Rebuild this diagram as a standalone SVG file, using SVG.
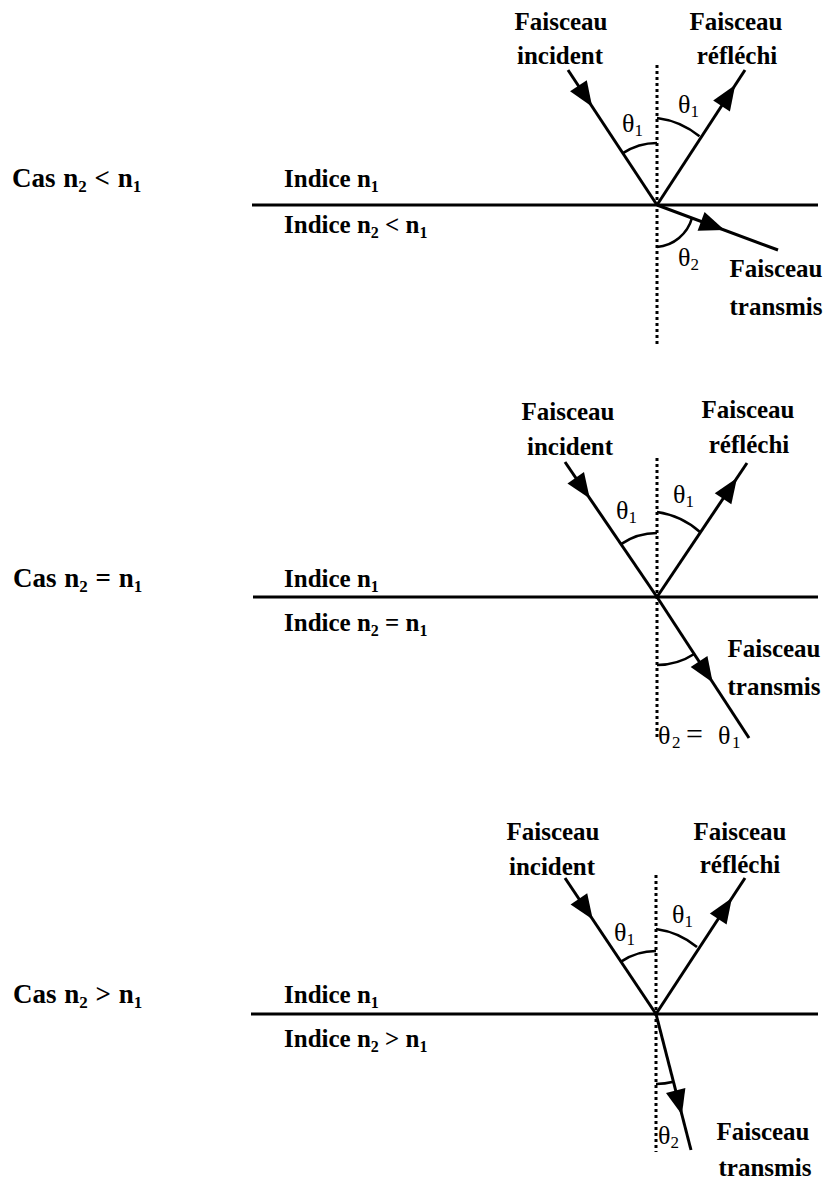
<svg xmlns="http://www.w3.org/2000/svg" xmlns:xlink="http://www.w3.org/1999/xlink" width="825" height="1179" viewBox="0 0 825 1179">
<style>
.lbl{font-family:"Liberation Serif","Times New Roman",serif;font-weight:bold;font-size:25px;fill:#000}
.cas{font-size:27px;word-spacing:1px}
.mid{text-anchor:middle}
.th{font-family:"Liberation Serif","Times New Roman",serif;font-size:26px;fill:#000}
.sub{font-size:16px}
.cas .sub{font-size:17px}
.ths{font-size:17px}
.eq{font-size:30px}
.iface{stroke:#000;stroke-width:3.2;fill:none}
.normal{stroke:#000;stroke-width:3;stroke-dasharray:3 3;fill:none}
.ray{stroke:#000;stroke-width:3;fill:none;stroke-linecap:butt}
.arc{stroke:#000;stroke-width:2.6;fill:none}
</style>
<defs>
<polygon id="ah" points="0,0 -25,-10 -25,10" fill="#000"/>
</defs>
<rect width="825" height="1179" fill="#fff"/>

<!-- Panel 1 -->
<g id="panel1">
  <g id="p1-labels">
    <text class="lbl cas" x="12" y="187">Cas n<tspan class="sub" dy="5">2</tspan><tspan dy="-5"> &lt; n</tspan><tspan class="sub" dy="5">1</tspan></text>
    <text class="lbl" x="284" y="187">Indice n<tspan class="sub" dy="5">1</tspan></text>
    <text class="lbl" x="284" y="233">Indice n<tspan class="sub" dy="5">2</tspan><tspan dy="-5"> &lt; n</tspan><tspan class="sub" dy="5">1</tspan></text>
  </g>
  <g id="p1-interface"><line class="iface" x1="252" y1="205" x2="818" y2="205"/></g>
  <g id="p1-normal"><line class="normal" x1="657" y1="65" x2="657" y2="347"/></g>
  <g id="p1-incident">
    <text class="lbl mid" x="561" y="30">Faisceau</text>
    <text class="lbl mid" x="560" y="64">incident</text>
  </g>
  <g id="p1-reflected">
    <text class="lbl mid" x="736" y="30">Faisceau</text>
    <text class="lbl mid" x="737" y="64">réfléchi</text>
  </g>
  <g id="p1-transmitted">
    <text class="lbl mid" x="776" y="277">Faisceau</text>
    <text class="lbl mid" x="776" y="315">transmis</text>
  </g>
  <g id="p1-angles">
    <path class="arc" d="M657,143 A62,62 0 0 0 622.9,153.2"/>
    <path class="arc" d="M657,118 A84,84 0 0 1 699.5,136.3"/>
    <path class="arc" d="M657,247 A40,40 0 0 0 692,218"/>
    <text class="th" x="622" y="132">θ<tspan class="ths" dy="4">1</tspan></text>
    <text class="th" x="678" y="113">θ<tspan class="ths" dy="4">1</tspan></text>
    <text class="th" x="678" y="266">θ<tspan class="ths" dy="4">2</tspan></text>
  </g>
</g>

<!-- Panel 2 -->
<g id="panel2">
  <g id="p2-labels">
    <text class="lbl cas" x="13" y="587">Cas n<tspan class="sub" dy="5">2</tspan><tspan dy="-5"> = n</tspan><tspan class="sub" dy="5">1</tspan></text>
    <text class="lbl" x="284" y="587">Indice n<tspan class="sub" dy="5">1</tspan></text>
    <text class="lbl" x="284" y="631">Indice n<tspan class="sub" dy="5">2</tspan><tspan dy="-5"> = n</tspan><tspan class="sub" dy="5">1</tspan></text>
  </g>
  <g id="p2-interface"><line class="iface" x1="253" y1="597" x2="818" y2="597"/></g>
  <g id="p2-normal"><line class="normal" x1="657" y1="458" x2="657" y2="738"/></g>
  <g id="p2-incident">
    <text class="lbl mid" x="568" y="420">Faisceau</text>
    <text class="lbl mid" x="570" y="455">incident</text>
  </g>
  <g id="p2-reflected">
    <text class="lbl mid" x="748" y="418">Faisceau</text>
    <text class="lbl mid" x="749" y="453">réfléchi</text>
  </g>
  <g id="p2-transmitted">
    <text class="lbl mid" x="774" y="657">Faisceau</text>
    <text class="lbl mid" x="774" y="695">transmis</text>
  </g>
  <g id="p2-angles">
    <path class="arc" d="M657,533 A64,64 0 0 0 621,544.1"/>
    <path class="arc" d="M657,512 A83,83 0 0 1 700,532"/>
    <path class="arc" d="M657,665 A68,68 0 0 0 694.2,654"/>
    <text class="th" x="616" y="519">θ<tspan class="ths" dy="4">1</tspan></text>
    <text class="th" x="673" y="503">θ<tspan class="ths" dy="4">1</tspan></text>
    <text class="th" y="744"><tspan x="658">θ</tspan><tspan class="ths" x="672" dy="4">2</tspan><tspan class="eq" x="686" dy="-4">=</tspan><tspan x="718">θ</tspan><tspan class="ths" x="732" dy="4">1</tspan></text>
  </g>
</g>

<!-- Panel 3 -->
<g id="panel3">
  <g id="p3-labels">
    <text class="lbl cas" x="13" y="1003">Cas n<tspan class="sub" dy="5">2</tspan><tspan dy="-5"> &gt; n</tspan><tspan class="sub" dy="5">1</tspan></text>
    <text class="lbl" x="284" y="1003">Indice n<tspan class="sub" dy="5">1</tspan></text>
    <text class="lbl" x="284" y="1047">Indice n<tspan class="sub" dy="5">2</tspan><tspan dy="-5"> &gt; n</tspan><tspan class="sub" dy="5">1</tspan></text>
  </g>
  <g id="p3-interface"><line class="iface" x1="251" y1="1014" x2="818" y2="1014"/></g>
  <g id="p3-normal"><line class="normal" x1="656" y1="875" x2="656" y2="1152"/></g>
  <g id="p3-incident">
    <text class="lbl mid" x="553" y="840">Faisceau</text>
    <text class="lbl mid" x="552" y="875">incident</text>
  </g>
  <g id="p3-reflected">
    <text class="lbl mid" x="740" y="840">Faisceau</text>
    <text class="lbl mid" x="740" y="873">réfléchi</text>
  </g>
  <g id="p3-transmitted">
    <text class="lbl mid" x="763" y="1140">Faisceau</text>
    <text class="lbl mid" x="765" y="1176">transmis</text>
  </g>
  <g id="p3-angles">
    <path class="arc" d="M656,951 A63,63 0 0 0 621,961.6"/>
    <path class="arc" d="M656,929 A82,82 0 0 1 697,947"/>
    <path class="arc" d="M656,1084 A70,70 0 0 0 673.5,1081.8"/>
    <text class="th" x="614" y="941">θ<tspan class="ths" dy="4">1</tspan></text>
    <text class="th" x="672" y="923">θ<tspan class="ths" dy="4">1</tspan></text>
    <text class="th" x="658" y="1144">θ<tspan class="ths" dy="4">2</tspan></text>
  </g>
</g>

<!-- Connectors (rays) -->
<g id="connectors">
  <line class="ray" x1="568" y1="70" x2="657" y2="205"/>
  <line class="ray" x1="657" y1="205" x2="745" y2="70"/>
  <line class="ray" x1="657" y1="205" x2="778" y2="250"/>
  <use xlink:href="#ah" href="#ah" transform="translate(592.2,106.7) rotate(56.6)"/>
  <use xlink:href="#ah" href="#ah" transform="translate(735.2,85.1) rotate(-56.9)"/>
  <use xlink:href="#ah" href="#ah" transform="translate(724.5,230.1) rotate(20.4)"/>

  <line class="ray" x1="565" y1="462" x2="657" y2="597"/>
  <line class="ray" x1="657" y1="597" x2="747" y2="463"/>
  <line class="ray" x1="657" y1="597" x2="749" y2="738"/>
  <use xlink:href="#ah" href="#ah" transform="translate(589.8,498.4) rotate(55.7)"/>
  <use xlink:href="#ah" href="#ah" transform="translate(737,478) rotate(-56.1)"/>
  <use xlink:href="#ah" href="#ah" transform="translate(712.7,682.4) rotate(56.9)"/>

  <line class="ray" x1="565" y1="878" x2="656" y2="1014"/>
  <line class="ray" x1="656" y1="1014" x2="745" y2="878"/>
  <line class="ray" x1="656" y1="1014" x2="691" y2="1150"/>
  <use xlink:href="#ah" href="#ah" transform="translate(592.8,919.6) rotate(56.2)"/>
  <use xlink:href="#ah" href="#ah" transform="translate(731.9,898.1) rotate(-56.8)"/>
  <use xlink:href="#ah" href="#ah" transform="translate(681.9,1114.7) rotate(75.6)"/>
</g>
</svg>
